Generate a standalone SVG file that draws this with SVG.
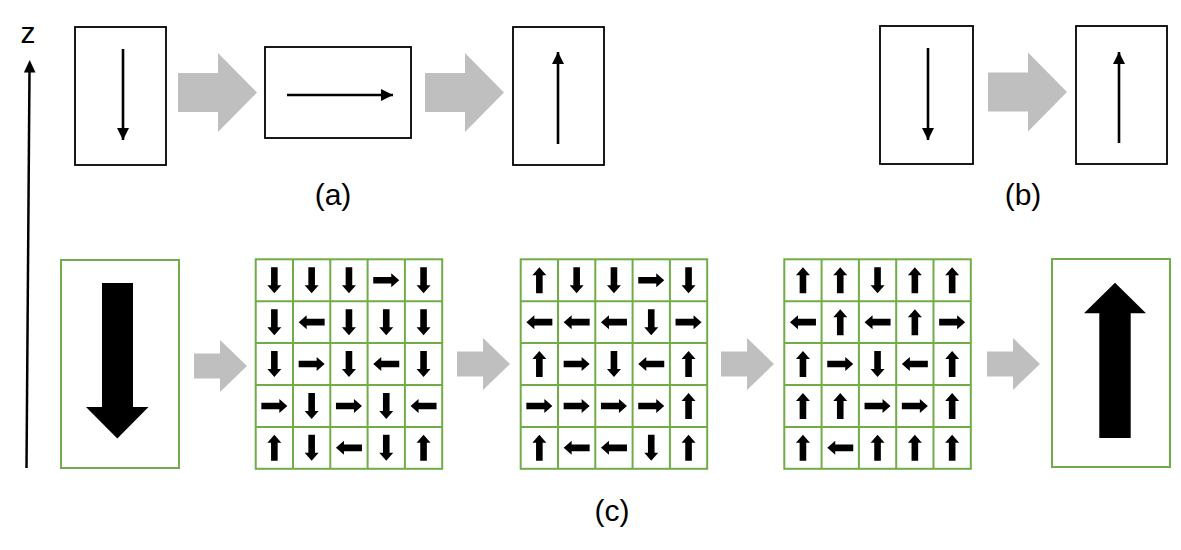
<svg xmlns="http://www.w3.org/2000/svg" xmlns:xlink="http://www.w3.org/1999/xlink" width="1181" height="550" viewBox="0 0 1181 550">
<style>
.box{fill:#fff;stroke:#000;stroke-width:1.8}
.gbox{fill:#fff;stroke:#70ad47;stroke-width:2}
.grid{fill:none;stroke:#70ad47;stroke-width:2}
.thin{stroke:#000;stroke-width:2.6;fill:none}
.gray{fill:#bfbfbf}
.lbl{font-family:"Liberation Sans",Arial,sans-serif;font-size:30px;fill:#000;text-anchor:middle}
</style>
<defs>
<polygon id="sa" points="-13,-3.3 5,-3.3 5,-7 13,0 5,7 5,3.3 -13,3.3" fill="#000"/>
<marker id="ah" viewBox="0 0 12 12" refX="12" refY="6" markerWidth="12" markerHeight="12" markerUnits="userSpaceOnUse" orient="auto">
<path d="M0,0 L12,6 L0,12 Z" fill="#000"/>
</marker>
<polygon id="gbig" points="0,-19.5 40,-19.5 40,-39.5 79,0 40,39.5 40,19.5 0,19.5" class="gray"/>
<polygon id="gsm" points="0,-12.5 26,-12.5 26,-26 53,0 26,26 26,12.5 0,12.5" class="gray"/>
<g id="gridlines">
<rect x="0" y="0" width="186.5" height="209.5" class="grid"/>
<path class="grid" d="M37.3,0V209.5M74.6,0V209.5M111.9,0V209.5M149.2,0V209.5M0,41.9H186.5M0,83.8H186.5M0,125.7H186.5M0,167.6H186.5"/>
</g>
</defs>
<rect width="1181" height="550" fill="#fff"/>

<g id="z-axis">
<line x1="29.5" y1="70" x2="26.5" y2="468" stroke="#000" stroke-width="2.5"/>
<polygon points="29.7,60 35.5,72.5 23.9,72.5" fill="#000"/>
<text class="lbl" x="28" y="43">z</text>
</g>

<g id="connectors">
<use xlink:href="#gbig" x="178" y="92.5"/>
<use xlink:href="#gbig" x="425" y="92.5"/>
<use xlink:href="#gbig" x="988" y="92"/>
<use xlink:href="#gsm" x="194" y="366"/>
<use xlink:href="#gsm" x="457" y="364"/>
<use xlink:href="#gsm" x="721" y="364"/>
<use xlink:href="#gsm" x="987" y="364"/>
</g>

<g id="a1">
<rect class="box" x="75" y="27" width="91" height="138"/>
<line class="thin" x1="123" y1="49" x2="123" y2="140" marker-end="url(#ah)"/>
</g>
<g id="a2">
<rect class="box" x="265" y="47" width="146" height="91"/>
<line class="thin" x1="287" y1="95" x2="393" y2="95" marker-end="url(#ah)"/>
</g>
<g id="a3">
<rect class="box" x="513" y="27" width="91" height="138"/>
<line class="thin" x1="558" y1="144" x2="558" y2="52" marker-end="url(#ah)"/>
</g>
<text class="lbl" x="333" y="205">(a)</text>

<g id="b1">
<rect class="box" x="880" y="26" width="93" height="138"/>
<line class="thin" x1="928" y1="48" x2="928" y2="140" marker-end="url(#ah)"/>
</g>
<g id="b2">
<rect class="box" x="1076" y="26" width="91" height="138"/>
<line class="thin" x1="1119" y1="143" x2="1119" y2="52" marker-end="url(#ah)"/>
</g>
<text class="lbl" x="1023" y="205">(b)</text>

<g id="c1">
<rect class="gbox" x="61" y="260" width="118" height="208"/>
<polygon points="102,283 133,283 133,407 148.5,407 117.3,438.5 86,407 102,407" fill="#000"/>
</g>

<g id="c2" transform="translate(255.7,259.3)">
<use xlink:href="#gridlines"/>
<g transform="translate(18.65,20.95)">
<use xlink:href="#sa" transform="translate(0,0) rotate(90)"/>
<use xlink:href="#sa" transform="translate(37.3,0) rotate(90)"/>
<use xlink:href="#sa" transform="translate(74.6,0) rotate(90)"/>
<use xlink:href="#sa" transform="translate(111.9,0) rotate(0)"/>
<use xlink:href="#sa" transform="translate(149.2,0) rotate(90)"/>
<use xlink:href="#sa" transform="translate(0,41.9) rotate(90)"/>
<use xlink:href="#sa" transform="translate(37.3,41.9) rotate(180)"/>
<use xlink:href="#sa" transform="translate(74.6,41.9) rotate(90)"/>
<use xlink:href="#sa" transform="translate(111.9,41.9) rotate(90)"/>
<use xlink:href="#sa" transform="translate(149.2,41.9) rotate(90)"/>
<use xlink:href="#sa" transform="translate(0,83.8) rotate(90)"/>
<use xlink:href="#sa" transform="translate(37.3,83.8) rotate(0)"/>
<use xlink:href="#sa" transform="translate(74.6,83.8) rotate(90)"/>
<use xlink:href="#sa" transform="translate(111.9,83.8) rotate(180)"/>
<use xlink:href="#sa" transform="translate(149.2,83.8) rotate(90)"/>
<use xlink:href="#sa" transform="translate(0,125.7) rotate(0)"/>
<use xlink:href="#sa" transform="translate(37.3,125.7) rotate(90)"/>
<use xlink:href="#sa" transform="translate(74.6,125.7) rotate(0)"/>
<use xlink:href="#sa" transform="translate(111.9,125.7) rotate(90)"/>
<use xlink:href="#sa" transform="translate(149.2,125.7) rotate(180)"/>
<use xlink:href="#sa" transform="translate(0,167.6) rotate(-90)"/>
<use xlink:href="#sa" transform="translate(37.3,167.6) rotate(90)"/>
<use xlink:href="#sa" transform="translate(74.6,167.6) rotate(180)"/>
<use xlink:href="#sa" transform="translate(111.9,167.6) rotate(90)"/>
<use xlink:href="#sa" transform="translate(149.2,167.6) rotate(-90)"/>
</g>
</g>

<g id="c3" transform="translate(520.7,259.3)">
<use xlink:href="#gridlines"/>
<g transform="translate(18.65,20.95)">
<use xlink:href="#sa" transform="translate(0,0) rotate(-90)"/>
<use xlink:href="#sa" transform="translate(37.3,0) rotate(90)"/>
<use xlink:href="#sa" transform="translate(74.6,0) rotate(90)"/>
<use xlink:href="#sa" transform="translate(111.9,0) rotate(0)"/>
<use xlink:href="#sa" transform="translate(149.2,0) rotate(90)"/>
<use xlink:href="#sa" transform="translate(0,41.9) rotate(180)"/>
<use xlink:href="#sa" transform="translate(37.3,41.9) rotate(180)"/>
<use xlink:href="#sa" transform="translate(74.6,41.9) rotate(180)"/>
<use xlink:href="#sa" transform="translate(111.9,41.9) rotate(90)"/>
<use xlink:href="#sa" transform="translate(149.2,41.9) rotate(0)"/>
<use xlink:href="#sa" transform="translate(0,83.8) rotate(-90)"/>
<use xlink:href="#sa" transform="translate(37.3,83.8) rotate(0)"/>
<use xlink:href="#sa" transform="translate(74.6,83.8) rotate(90)"/>
<use xlink:href="#sa" transform="translate(111.9,83.8) rotate(180)"/>
<use xlink:href="#sa" transform="translate(149.2,83.8) rotate(-90)"/>
<use xlink:href="#sa" transform="translate(0,125.7) rotate(0)"/>
<use xlink:href="#sa" transform="translate(37.3,125.7) rotate(0)"/>
<use xlink:href="#sa" transform="translate(74.6,125.7) rotate(0)"/>
<use xlink:href="#sa" transform="translate(111.9,125.7) rotate(0)"/>
<use xlink:href="#sa" transform="translate(149.2,125.7) rotate(-90)"/>
<use xlink:href="#sa" transform="translate(0,167.6) rotate(-90)"/>
<use xlink:href="#sa" transform="translate(37.3,167.6) rotate(180)"/>
<use xlink:href="#sa" transform="translate(74.6,167.6) rotate(180)"/>
<use xlink:href="#sa" transform="translate(111.9,167.6) rotate(90)"/>
<use xlink:href="#sa" transform="translate(149.2,167.6) rotate(-90)"/>
</g>
</g>

<g id="c4" transform="translate(784.3,259.3)">
<use xlink:href="#gridlines"/>
<g transform="translate(18.65,20.95)">
<use xlink:href="#sa" transform="translate(0,0) rotate(-90)"/>
<use xlink:href="#sa" transform="translate(37.3,0) rotate(-90)"/>
<use xlink:href="#sa" transform="translate(74.6,0) rotate(90)"/>
<use xlink:href="#sa" transform="translate(111.9,0) rotate(-90)"/>
<use xlink:href="#sa" transform="translate(149.2,0) rotate(-90)"/>
<use xlink:href="#sa" transform="translate(0,41.9) rotate(180)"/>
<use xlink:href="#sa" transform="translate(37.3,41.9) rotate(-90)"/>
<use xlink:href="#sa" transform="translate(74.6,41.9) rotate(180)"/>
<use xlink:href="#sa" transform="translate(111.9,41.9) rotate(-90)"/>
<use xlink:href="#sa" transform="translate(149.2,41.9) rotate(0)"/>
<use xlink:href="#sa" transform="translate(0,83.8) rotate(-90)"/>
<use xlink:href="#sa" transform="translate(37.3,83.8) rotate(0)"/>
<use xlink:href="#sa" transform="translate(74.6,83.8) rotate(90)"/>
<use xlink:href="#sa" transform="translate(111.9,83.8) rotate(180)"/>
<use xlink:href="#sa" transform="translate(149.2,83.8) rotate(-90)"/>
<use xlink:href="#sa" transform="translate(0,125.7) rotate(-90)"/>
<use xlink:href="#sa" transform="translate(37.3,125.7) rotate(-90)"/>
<use xlink:href="#sa" transform="translate(74.6,125.7) rotate(0)"/>
<use xlink:href="#sa" transform="translate(111.9,125.7) rotate(0)"/>
<use xlink:href="#sa" transform="translate(149.2,125.7) rotate(-90)"/>
<use xlink:href="#sa" transform="translate(0,167.6) rotate(-90)"/>
<use xlink:href="#sa" transform="translate(37.3,167.6) rotate(180)"/>
<use xlink:href="#sa" transform="translate(74.6,167.6) rotate(-90)"/>
<use xlink:href="#sa" transform="translate(111.9,167.6) rotate(-90)"/>
<use xlink:href="#sa" transform="translate(149.2,167.6) rotate(-90)"/>
</g>
</g>

<g id="c5">
<rect class="gbox" x="1052" y="259" width="118" height="208"/>
<polygon points="1099.3,438 1130.7,438 1130.7,313.3 1146,313.3 1115,282.7 1084,313.3 1099.3,313.3" fill="#000"/>
</g>
<text class="lbl" x="612" y="521">(c)</text>
</svg>
